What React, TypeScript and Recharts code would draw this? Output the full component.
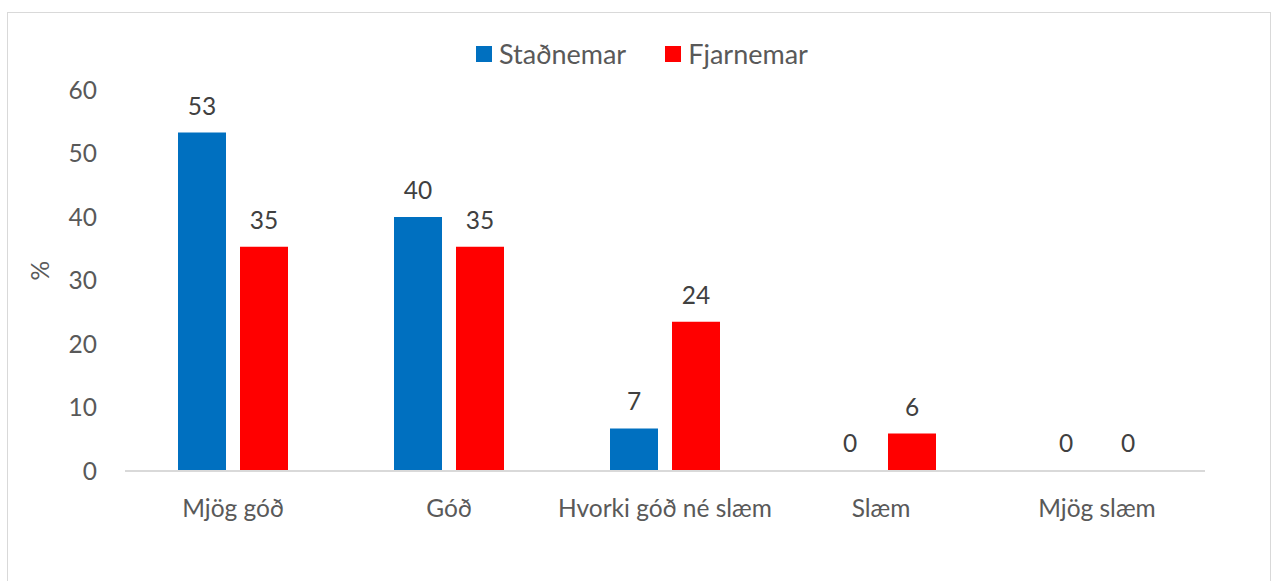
import * as React from 'react'
import { BarChart, Bar, XAxis, YAxis, LabelList, Cell } from 'recharts'

const categories = ['Mjög góð', 'Góð', 'Hvorki góð né slæm', 'Slæm', 'Mjög slæm']
const stadnemar = [53.3, 40, 6.7, 0, 0]
const fjarnemar = [35.3, 35.3, 23.5, 5.9, 0]
const yTicks = [0, 10, 20, 30, 40, 50, 60]

const FONT = 'Lato, "Open Sans", sans-serif'
const BLUE = '#0070C0'
const RED = '#FF0000'

const data = categories.map((name, i) => ({
  name,
  stadnemar: stadnemar[i],
  fjarnemar: fjarnemar[i]
}))

const legendItems = [
  { key: 'stadnemar', label: 'Staðnemar', color: BLUE },
  { key: 'fjarnemar', label: 'Fjarnemar', color: RED }
]

const fmt = (v: any) => Math.round(Number(v))

// zero bars: 1px min height so recharts keeps them (and their "0" label), but drawn transparent
const cellFill = (v: number, color: string) => (v === 0 ? 'transparent' : color)
const minSize = (v: any) => (Number(v) === 0 ? 1 : 0)

export default function App() {
  return (
    <div style={{ position: 'absolute', left: 0, top: 0, width: 1272, height: 581, background: '#fff', overflow: 'hidden' }}>
      <div style={{ position: 'absolute', left: 7, top: 12, width: 1262, height: 600, border: '1.5px solid #d9d9d9' }} />
      <div style={{ position: 'absolute', left: 476, top: 37, display: 'flex', alignItems: 'center', gap: 39, fontFamily: FONT, fontSize: 27, color: '#595959' }}>
        {legendItems.map(item => (
          <span key={item.key} style={{ display: 'inline-flex', alignItems: 'center', gap: 7 }}>
            <span style={{ width: 16, height: 16, background: item.color, display: 'inline-block' }} />
            <span>{item.label}</span>
          </span>
        ))}
      </div>
      <div style={{ position: 'absolute', left: 0, top: 0 }}>
        <BarChart
          width={1272}
          height={581}
          data={data}
          margin={{ top: 90, right: 67, bottom: 70, left: 0 }}
          barSize={48}
          barGap={14}
        >
          <XAxis
            dataKey="name"
            height={40}
            tickLine={false}
            axisLine={{ stroke: '#d9d9d9', strokeWidth: 2 }}
            tick={{ fill: '#595959', fontSize: 24.5, fontFamily: FONT }}
            tickMargin={23}
            interval={0}
          />
          <YAxis
            width={125}
            domain={[0, 60]}
            ticks={yTicks}
            axisLine={false}
            tickLine={false}
            tickMargin={22}
            tick={{ fill: '#595959', fontSize: 24.5, fontFamily: FONT }}
            label={{ value: '%', angle: -90, position: 'insideLeft', offset: 40, fill: '#595959', fontSize: 24.5, fontFamily: FONT }}
          />
          <Bar dataKey="stadnemar" name="Staðnemar" fill={BLUE} minPointSize={minSize} isAnimationActive={false}>
            {stadnemar.map((v, i) => <Cell key={i} fill={cellFill(v, BLUE)} />)}
            <LabelList dataKey="stadnemar" position="top" offset={18} formatter={fmt} fill="#404040" fontSize={24.5} fontFamily={FONT} />
          </Bar>
          <Bar dataKey="fjarnemar" name="Fjarnemar" fill={RED} minPointSize={minSize} isAnimationActive={false}>
            {fjarnemar.map((v, i) => <Cell key={i} fill={cellFill(v, RED)} />)}
            <LabelList dataKey="fjarnemar" position="top" offset={18} formatter={fmt} fill="#404040" fontSize={24.5} fontFamily={FONT} />
          </Bar>
        </BarChart>
      </div>
    </div>
  )
}
